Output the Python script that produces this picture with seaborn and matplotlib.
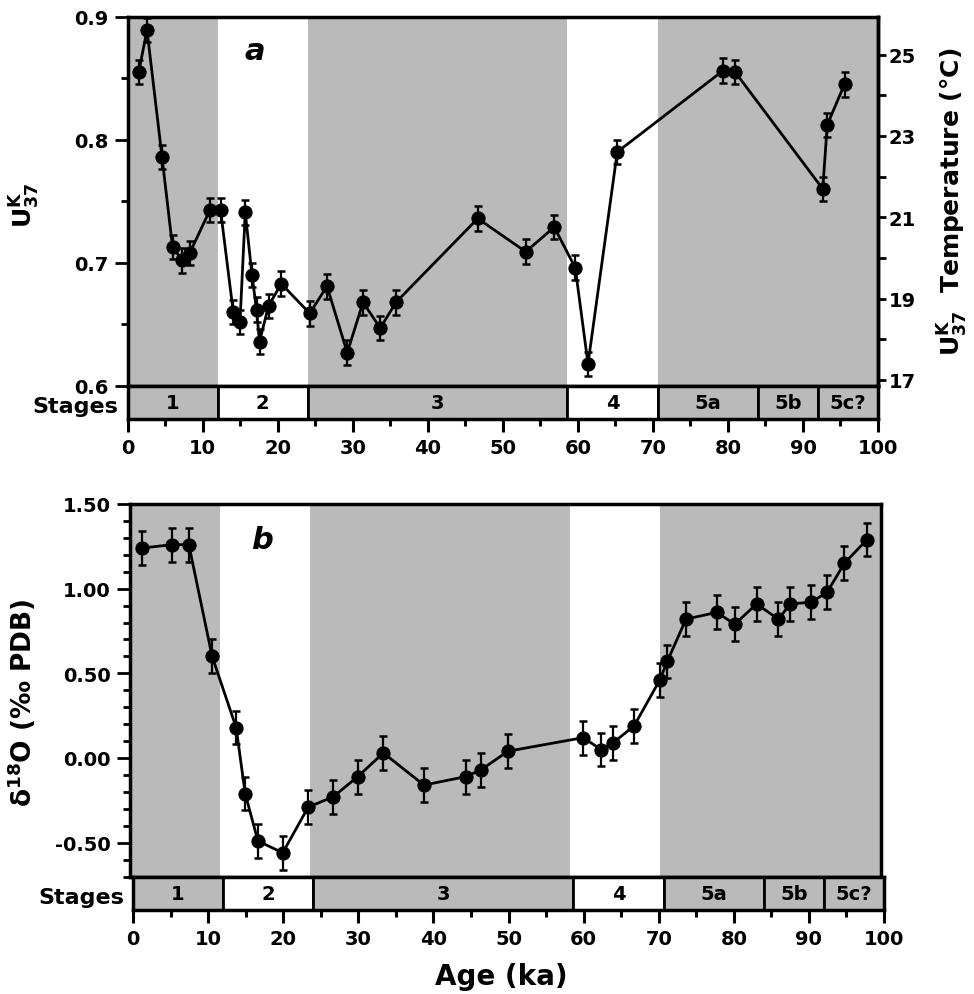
import numpy as np
import pandas as pd
import matplotlib
matplotlib.use('Agg')
import matplotlib.pyplot as plt
import seaborn as sns
from matplotlib.ticker import MultipleLocator, FixedLocator, FormatStrFormatter

# Painel a: indice U37K x idade (ka)
idade_a = [1.5, 2.6, 4.6, 6.0, 7.3, 8.3, 11.0, 12.4, 14.1, 15.0, 15.7, 16.6, 17.2,
           17.6, 18.8, 20.5, 24.3, 26.6, 29.3, 31.4, 33.7, 35.8, 46.7, 53.1, 56.9,
           59.7, 61.4, 65.3, 79.4, 81.0, 92.7, 93.3, 95.6]
uk37 = [0.855, 0.889, 0.786, 0.713, 0.702, 0.708, 0.743, 0.743, 0.660, 0.652, 0.741,
        0.690, 0.662, 0.636, 0.665, 0.683, 0.659, 0.681, 0.627, 0.668, 0.647, 0.668,
        0.736, 0.709, 0.729, 0.696, 0.618, 0.790, 0.856, 0.855, 0.760, 0.812, 0.845]
erro_a = 0.010

# Painel b: delta 18O x idade (ka)
idade_b = [1.7, 5.7, 7.9, 11.0, 14.2, 15.4, 17.1, 20.4, 23.8, 27.1, 30.4, 33.8, 39.2,
           44.8, 46.8, 50.4, 60.4, 62.8, 64.4, 67.2, 70.6, 71.6, 74.1, 78.2, 80.6,
           83.5, 86.4, 88.0, 90.8, 92.9, 95.2, 98.2]
d18o = [1.24, 1.26, 1.26, 0.60, 0.18, -0.21, -0.49, -0.56, -0.29, -0.23, -0.11, 0.03,
        -0.16, -0.11, -0.07, 0.04, 0.12, 0.05, 0.09, 0.19, 0.46, 0.57, 0.82, 0.86,
        0.79, 0.91, 0.82, 0.91, 0.92, 0.98, 1.15, 1.29]
erro_b = 0.10

# Estagios isotopicos
estagios = ['1', '2', '3', '4', '5a', '5b', '5c?']
limites = [0, 12, 24, 58.6, 70.7, 84, 92, 100]
sombreado = [True, False, True, False, True, True, True]

cinza = '#bababa'

sns.set_style('ticks')
plt.rcParams['font.family'] = ['DejaVu Sans']
plt.rcParams['font.weight'] = 'bold'
plt.rcParams['mathtext.default'] = 'bf'
plt.rcParams['axes.unicode_minus'] = False
plt.rcParams['axes.edgecolor'] = 'black'
plt.rcParams['text.color'] = 'black'
plt.rcParams['xtick.color'] = 'black'
plt.rcParams['ytick.color'] = 'black'
plt.rcParams['xtick.labelcolor'] = 'black'
plt.rcParams['ytick.labelcolor'] = 'black'

W, H = 974, 995
fig = plt.figure(figsize=(W / 100, H / 100), dpi=100)


def pos(l, t, r, b):
    return [l / W, 1 - b / H, (r - l) / W, (b - t) / H]


def painel(ax, idade, valor, erro):
    for ini, fim, s in zip(limites[:-1], limites[1:], sombreado):
        if s:
            ax.axvspan(ini, fim, color=cinza, lw=0, zorder=0)
    ax.errorbar(idade, valor, yerr=erro, fmt='none', ecolor='black',
                elinewidth=1.6, capsize=3, capthick=1.8, zorder=2)
    sns.lineplot(x=idade, y=valor, ax=ax, color='black', lw=2, marker='o',
                 markersize=9.5, markeredgecolor='black', sort=False, zorder=3)
    ax.set_xlim(0, 100)
    ax.tick_params(axis='x', bottom=False, labelbottom=False)
    ax.tick_params(axis='y', which='major', length=9.5, width=2, direction='out',
                   labelsize=14, pad=4)
    ax.tick_params(axis='y', which='minor', length=5, width=2, direction='out')
    for sp in ax.spines.values():
        sp.set_linewidth(2.5)
        sp.set_visible(True)
    ax.set_xlabel('')
    ax.set_ylabel('')


def barra(ax):
    for ini, fim, nome, s in zip(limites[:-1], limites[1:], estagios, sombreado):
        ax.axvspan(ini, fim, facecolor=cinza if s else 'white', edgecolor='black', lw=2)
        ax.text((ini + fim) / 2, 0.5, nome, ha='center', va='center',
                fontsize=14, fontweight='bold')
    ax.set_xlim(0, 100)
    ax.set_ylim(0, 1)
    ax.set_yticks([])
    ax.xaxis.set_major_locator(MultipleLocator(10))
    ax.xaxis.set_minor_locator(MultipleLocator(5))
    ax.tick_params(axis='x', which='major', length=9.5, width=2.2, direction='out',
                   labelsize=14, pad=4)
    ax.tick_params(axis='x', which='minor', length=5, width=2.2, direction='out')
    for sp in ax.spines.values():
        sp.set_linewidth(2.5)
        sp.set_visible(True)
    ax.text(-0.012, 0.38, 'Stages', transform=ax.transAxes, ha='right', va='center',
            fontsize=16, fontweight='bold')


# Painel a
ax_a = fig.add_axes(pos(127.5, 17.5, 877.5, 387))
painel(ax_a, idade_a, uk37, erro_a)
ax_a.set_ylim(0.6, 0.9)
ax_a.yaxis.set_major_locator(MultipleLocator(0.1))
ax_a.yaxis.set_minor_locator(MultipleLocator(0.05))
ax_a.yaxis.set_major_formatter(FormatStrFormatter('%.1f'))
ax_a.text(17, 0.872, 'a', fontsize=22, fontweight='bold', style='italic',
          ha='center', va='center')

# eixo de temperatura (Prahl: U = 0.033 T + 0.044)
temp = ax_a.secondary_yaxis('right', functions=(lambda u: (u - 0.044) / 0.033,
                                                 lambda t: 0.033 * t + 0.044))
temp.yaxis.set_major_locator(FixedLocator([17, 19, 21, 23, 25]))
temp.yaxis.set_minor_locator(FixedLocator([18, 20, 22, 24]))
temp.tick_params(which='major', length=6, width=2, labelsize=14, pad=2)
temp.tick_params(which='minor', length=6, width=2)
temp.spines['right'].set_linewidth(2.5)

bar_a = fig.add_axes(pos(127.5, 387, 878, 420))
barra(bar_a)

# Painel b
ax_b = fig.add_axes(pos(129.5, 505, 880.5, 877.5))
painel(ax_b, idade_b, d18o, erro_b)
ax_b.set_ylim(-0.70, 1.50)
ax_b.yaxis.set_major_locator(MultipleLocator(0.5))
ax_b.yaxis.set_minor_locator(MultipleLocator(0.1))
ax_b.yaxis.set_major_formatter(FormatStrFormatter('%.2f'))
ax_b.text(17.6, 1.29, 'b', fontsize=22, fontweight='bold', style='italic',
          ha='center', va='center')

bar_b = fig.add_axes(pos(133, 877.5, 884, 911))
barra(bar_b)

# rotulos dos eixos
fig.text(25 / W, 1 - 205 / H, r'$U^{K}_{37}$', rotation=90, ha='center', va='center',
         fontsize=18, fontweight='bold')
fig.text(953 / W, 1 - 202 / H, r'$U^{K}_{37}$  Temperature (°C)', rotation=90,
         ha='center', va='center', fontsize=18, fontweight='bold')
fig.text(22 / W, 1 - 703 / H, 'δ$^{18}$O (‰ PDB)', rotation=90, ha='center',
         va='center', fontsize=19, fontweight='bold')
fig.text(501 / W, 1 - 977 / H, 'Age (ka)', ha='center', va='center',
         fontsize=20, fontweight='bold')

plt.savefig('out.png', dpi=100)
